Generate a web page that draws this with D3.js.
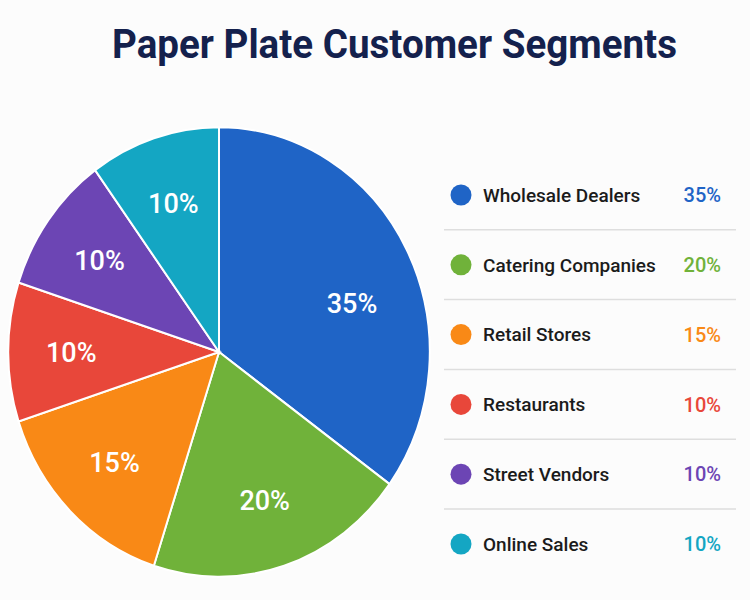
<!DOCTYPE html>
<meta charset="utf-8">
<title>Paper Plate Customer Segments</title>
<style>
  body { margin: 0; background: #fcfcfc; }
  text { font-family: Roboto, "Liberation Sans", sans-serif; }
</style>
<body>
<svg width="750" height="600"></svg>
<script src="https://d3js.org/d3.v7.min.js"></script>
<script>

var segments = ["Wholesale Dealers", "Catering Companies", "Retail Stores", "Restaurants", "Street Vendors", "Online Sales"];
var shares = [35, 20, 15, 10, 10, 10];
var colors = ["#1f64c6", "#70b23a", "#f98916", "#e8473a", "#6c45b4", "#14a6c3"];

var svg = d3.select("svg"),
  width = +svg.attr("width"),
  height = +svg.attr("height");

svg.append("rect").attr("width", width).attr("height", height).attr("fill", "#fcfcfc");

svg.append("text")
  .attr("x", 112)
  .attr("y", 58)
  .attr("font-size", 41)
  .attr("font-weight", 700)
  .attr("fill", "#14214d")
  .attr("textLength", 565)
  .attr("lengthAdjust", "spacingAndGlyphs")
  .text("Paper Plate Customer Segments");

var data = segments.map(function(s, i) { return { name: s, value: shares[i], color: colors[i] }; });

var pie = d3.pie().sort(null).value(function(d) { return d.value; });
var arcs = pie(data);

var r = 214;
var arc = d3.arc().innerRadius(0).outerRadius(r);
var labelArc = d3.arc().innerRadius(150).outerRadius(150);

// pie is slightly taller than wide in the picture
var g = svg.append("g")
  .attr("transform", "translate(219,352) scale(0.985,1.05)");

g.selectAll("path")
  .data(arcs)
  .enter().append("path")
  .attr("d", arc)
  .attr("fill", function(d) { return d.data.color; })
  .attr("stroke", "#fff")
  .attr("stroke-width", 2);

var lg = svg.append("g").attr("transform", "translate(219,352)");
lg.selectAll("text")
  .data(arcs)
  .enter().append("text")
  .attr("transform", function(d) {
    var c = labelArc.centroid(d);
    if (d.index === 0) c = [133, -49];
    else c = [c[0] * 0.985, c[1] * 1.04];
    return "translate(" + c[0] + "," + c[1] + ")";
  })
  .attr("text-anchor", "middle")
  .attr("dy", "0.36em")
  .attr("font-size", 27)
  .attr("font-weight", 500)
  .attr("fill", "#fff")
  .text(function(d) { return d.data.value + "%"; });

// legend
var y = d3.scalePoint().domain(segments).range([195, 544]);

var legend = svg.append("g");

legend.selectAll("line")
  .data(segments.slice(1))
  .enter().append("line")
  .attr("x1", 444).attr("x2", 736)
  .attr("y1", function(d) { return y(d) - 35; })
  .attr("y2", function(d) { return y(d) - 35; })
  .attr("stroke", "#dedede")
  .attr("stroke-width", 1.5);

var row = legend.selectAll("g.row")
  .data(data)
  .enter().append("g")
  .attr("class", "row")
  .attr("transform", function(d) { return "translate(0," + y(d.name) + ")"; });

row.append("circle")
  .attr("cx", 461)
  .attr("r", 10.5)
  .attr("fill", function(d) { return d.color; });

row.append("text")
  .attr("x", 483)
  .attr("dy", "0.36em")
  .attr("font-size", 19)
  .attr("font-weight", 500)
  .attr("fill", "#1b1b1b")
  .text(function(d) { return d.name; });

row.append("text")
  .attr("x", 721)
  .attr("dy", "0.36em")
  .attr("text-anchor", "end")
  .attr("font-size", 20)
  .attr("font-weight", 500)
  .attr("fill", function(d) { return d.color; })
  .text(function(d) { return d.value + "%"; });

</script>
</body>
